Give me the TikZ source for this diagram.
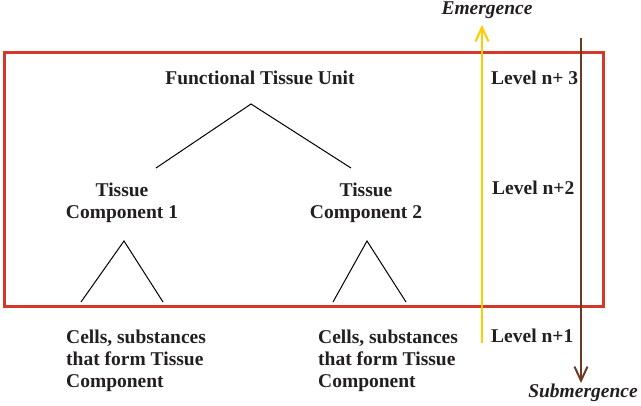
\documentclass[tikz,border=0pt]{standalone}
\usepackage{fontspec}
\setmainfont{Liberation Serif}
\usetikzlibrary{arrows.meta}
\definecolor{boxred}{RGB}{212,56,40}
\definecolor{emyellow}{RGB}{255,204,0}
\definecolor{subbrown}{RGB}{112,58,34}
\definecolor{txt}{RGB}{35,31,32}
\tikzset{
  lbl/.style={inner sep=0pt, text=txt, font=\fontsize{19.5}{22}\selectfont\bfseries},
  ilbl/.style={inner sep=0pt, text=txt, font=\fontsize{19.5}{22}\selectfont\bfseries\itshape},
  tree/.style={draw=black, line width=1pt},
  frame/.style={draw=boxred, line width=3pt},
  arr/.style={line width=2pt, -{Straight Barb[length=14pt,width=13pt,line width=2pt]}}
}
\begin{document}
\begin{tikzpicture}[x=1pt,y=-1pt]
\useasboundingbox (0,0) rectangle (641,406);
% frame
\draw[frame] (4,53) rectangle (603,307);
% texts
\node[lbl, anchor=base] (fu) at (260,85) {Functional Tissue Unit};
\node[lbl, anchor=north, align=center] (tc1) at (122,182.6) {Tissue\\Component 1};
\node[lbl, anchor=north, align=center] (tc2) at (366,182.6) {Tissue\\Component 2};
\node[lbl, anchor=north west, align=left] (c1) at (66,329.6) {Cells, substances\\that form Tissue\\Component};
\node[lbl, anchor=north west, align=left] (c2) at (318,329.6) {Cells, substances\\that form Tissue\\Component};
\node[lbl, anchor=base west] (l3) at (491,85) {Level n+ 3};
\node[lbl, anchor=base west] (l2) at (492,195) {Level n+2};
\node[lbl, anchor=base west] (l1) at (491,343) {Level n+1};
\node[ilbl, anchor=base] (em) at (487,15) {Emergence};
\node[ilbl, anchor=base] (sub) at (583,398) {Submergence};
% tree coordinates
\coordinate (a0) at (251,104);
\coordinate (a0l) at (156,168);
\coordinate (a0r) at (351,168);
\coordinate (a1) at (124,241);
\coordinate (a1l) at (81,302);
\coordinate (a1r) at (163,302);
\coordinate (a2) at (367,241);
\coordinate (a2l) at (333,302);
\coordinate (a2r) at (406,302);
\draw[tree] (a0l) -- (a0) -- (a0r);
\draw[tree] (a1l) -- (a1) -- (a1r);
\draw[tree] (a2l) -- (a2) -- (a2r);
% arrows
\coordinate (ys) at (482,343);
\coordinate (ye) at (482,25);
\coordinate (bs) at (581,38);
\coordinate (be) at (581,383);
\draw[arr, emyellow] (ys) -- (ye);
\draw[arr, subbrown] (bs) -- (be);
\end{tikzpicture}
\end{document}
